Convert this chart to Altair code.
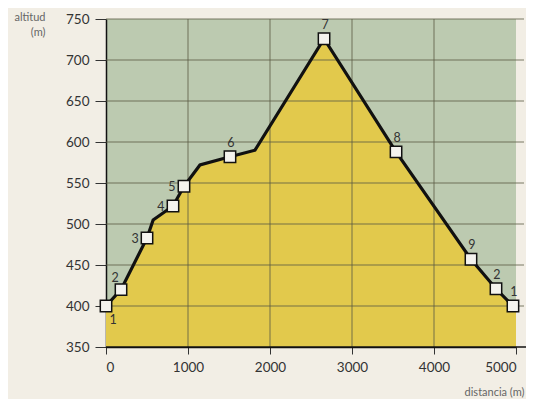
import altair as alt
import pandas as pd

# profile vertices (distance m, altitude m)
dist = [0, 183, 500, 575, 817, 951, 1146, 1512, 1817, 2659, 3537, 4451, 4756, 4963]
alt_m = [400, 420, 483, 505, 522, 546, 572, 582, 590, 726, 588, 457, 421, 400]
# area continues to the right edge
area_dist = dist + [5000]
area_alt = alt_m + [396]

# marked points
mark_idx = [0, 1, 2, 4, 5, 7, 9, 10, 11, 12, 13]
mark_lbl = ["1", "2", "3", "4", "5", "6", "7", "8", "9", "2", "1"]
lbl_below = [0]
lbl_upleft = [1]
lbl_left = [2, 4, 5]
lbl_above = [7, 9, 10, 11, 12, 13]

x_ticks = [0, 1000, 2000, 3000, 4000, 5000]
y_ticks = [350, 400, 450, 500, 550, 600, 650, 700, 750]

GREEN = "#bccab0"
YELLOW = "#e2c94c"
GRID = "#5a5a44"
FONT = "Lato"

line_df = pd.DataFrame({"d": dist, "a": alt_m})
area_df = pd.DataFrame({"d": area_dist, "a": area_alt})
pts_df = pd.DataFrame({
    "d": [dist[i] for i in mark_idx],
    "a": [alt_m[i] for i in mark_idx],
    "lbl": mark_lbl,
    "i": mark_idx,
})

xs = alt.Scale(domain=[0, 5000], nice=False)
ys = alt.Scale(domain=[350, 750], nice=False, zero=False)

xenc = alt.X("d:Q", scale=xs, axis=alt.Axis(
    values=x_ticks, format="d", grid=False, title="distancia (m)",
    domainColor="#111", domainWidth=1.5, tickColor="#333", tickSize=7,
    labelFont=FONT, labelFontSize=13.5, labelColor="#333", labelPadding=6,
    titleFont=FONT, titleFontSize=11, titleFontWeight="normal", titleColor="#666",
    titleAlign="right", titleX=418, titleY=48, titleBaseline="alphabetic"))
yenc = alt.Y("a:Q", scale=ys, axis=alt.Axis(
    values=y_ticks, grid=False, title=["altitud", "(m)"],
    domainColor="#111", domainWidth=1.5, tickColor="#333", tickSize=11,
    labelFont=FONT, labelFontSize=13.5, labelColor="#333", labelPadding=6,
    titleFont=FONT, titleFontSize=11, titleFontWeight="normal", titleColor="#666",
    titleAngle=0, titleAlign="right", titleX=-61, titleY=-8,
    titleBaseline="top", titleLineHeight=15))

area = alt.Chart(area_df).mark_area(color=YELLOW, opacity=1).encode(
    x=xenc, y=yenc, y2=alt.datum(350))

vrules = alt.Chart(pd.DataFrame({"d": x_ticks[1:-1]})).mark_rule(
    color=GRID, strokeWidth=1, opacity=0.8).encode(x=alt.X("d:Q", scale=xs))

hrules = alt.Chart(pd.DataFrame({"a": y_ticks[1:]})).mark_rule(
    color=GRID, strokeWidth=1, opacity=0.8).encode(
    y=alt.Y("a:Q", scale=ys), x=alt.value(0), x2=alt.value(418))

bottom = alt.Chart(pd.DataFrame({"a": [350]})).mark_rule(
    color="#111", strokeWidth=1.5).encode(
    y=alt.Y("a:Q", scale=ys), x=alt.value(0), x2=alt.value(420))

line = alt.Chart(line_df).mark_line(color="#111", strokeWidth=3.2).encode(
    x=alt.X("d:Q", scale=xs), y=alt.Y("a:Q", scale=ys))

pts = alt.Chart(pts_df).mark_point(
    shape="square", size=130, filled=True, fill="#f4f3ee", stroke="#111",
    strokeWidth=1.5, opacity=1).encode(
    x=alt.X("d:Q", scale=xs), y=alt.Y("a:Q", scale=ys))

def labels(idx, **kw):
    return alt.Chart(pts_df[pts_df["i"].isin(idx)]).mark_text(
        font=FONT, fontSize=12.5, color="#333", **kw).encode(
        x=alt.X("d:Q", scale=xs), y=alt.Y("a:Q", scale=ys), text="lbl:N")

lb = labels(lbl_below, dx=7, dy=14)
lul = labels(lbl_upleft, dx=-6, dy=-12)
ll = labels(lbl_left, dx=-12, dy=1)
la = labels(lbl_above, dx=1, dy=-14)

chart = alt.layer(area, vrules, hrules, bottom, line, pts, lb, lul, ll, la).properties(
    width=410, height=328,
    autosize=alt.AutoSizeParams(type="none"),
    padding={"left": 98, "top": 11, "right": 10, "bottom": 52},
    background="#f2eee5",
).configure_view(fill=GREEN, stroke=None)

chart.save("out.html", embed_options={"renderer": "svg", "actions": False})
